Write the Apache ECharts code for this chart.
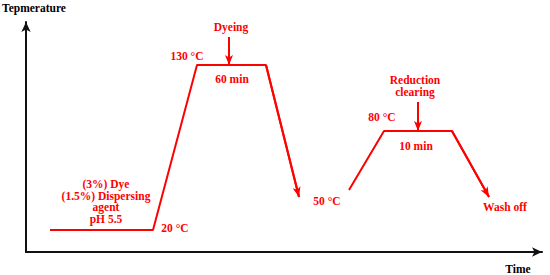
<!DOCTYPE html>
<html><head><meta charset="utf-8">
<script src="https://cdn.jsdelivr.net/npm/echarts@6/dist/echarts.min.js"></script>
<style>html,body{margin:0;padding:0;background:#fff}#c{width:550px;height:275px}</style>
</head><body><div id="c"></div>
<script>
// schematic time units and temperature levels
const dyeTime = [24, 127, 171, 240, 273];
const dyeTemp = [20, 20, 130, 130, 42];
const clearTime = [323, 358, 426, 463];
const clearTemp = [46.7, 86, 86, 42];
const dyeArrow = [[203, 148.7], [203, 130]];
const clearArrow = [[392, 105.3], [392, 86]];

const RED = '#ff0000';
const FONT = 'bold 11.5px "Liberation Serif", "Times New Roman", serif';

function pts(t, v) { return t.map((x, i) => [x, v[i]]); }
function lastSeg(t, v) {
  const n = t.length;
  return [[{coord: [t[n-2], v[n-2]]}, {coord: [t[n-1], v[n-1]]}]];
}

const chart = echarts.init(document.getElementById('c'), null, {renderer: 'svg'});
const labels = [
  ['Tepmerature', 34, 8, '#000'],
  ['Time', 518, 269, '#000'],
  ['Dyeing', 231, 27, RED],
  ['130 °C', 187, 56, RED],
  ['60 min', 232, 79, RED],
  ['Reduction\nclearing', 415, 86, RED],
  ['80 °C', 382, 117, RED],
  ['10 min', 416, 146, RED],
  ['50 °C', 327, 201, RED],
  ['Wash off', 505, 207, RED],
  ['20 °C', 175, 228, RED],
  ['(3%) Dye\n(1.5%) Dispersing\nagent\npH 5.5', 106, 201.5, RED]
];

const axisLine = {
  show: true,
  onZero: false,
  symbol: ['none', 'arrow'],
  symbolSize: [7, 10],
  lineStyle: {color: '#111', width: 2}
};

const markArrow = {silent: true, symbol: ['none', 'arrow'], symbolSize: [6, 10], label: {show: false},
  lineStyle: {color: RED, width: 2, type: 'solid'}};

chart.setOption({
  animation: false,
  grid: {left: 26, top: 22, width: 516, height: 230},
  xAxis: {type: 'value', min: 0, max: 516, axisLine: axisLine, axisTick: {show: false}, axisLabel: {show: false}, splitLine: {show: false}},
  yAxis: {type: 'value', min: 5.333, max: 158.667, axisLine: axisLine, axisTick: {show: false}, axisLabel: {show: false}, splitLine: {show: false}},
  series: [
    {
      type: 'line', data: pts(dyeTime, dyeTemp), symbol: 'none',
      lineStyle: {color: RED, width: 2},
      markLine: Object.assign({}, markArrow, {
        data: lastSeg(dyeTime, dyeTemp).concat([[{coord: dyeArrow[0]}, {coord: dyeArrow[1]}]])})
    },
    {
      type: 'line', data: pts(clearTime, clearTemp), symbol: 'none',
      lineStyle: {color: RED, width: 2},
      markLine: Object.assign({}, markArrow, {
        data: lastSeg(clearTime, clearTemp).concat([[{coord: clearArrow[0]}, {coord: clearArrow[1]}]])})
    }
  ],
  graphic: labels.map(l => ({
    type: 'text', x: l[1], y: l[2], silent: true,
    style: {text: l[0], fill: l[3], font: FONT, align: 'center', verticalAlign: 'middle', lineHeight: 11.7}
  }))
});
</script></body></html>
